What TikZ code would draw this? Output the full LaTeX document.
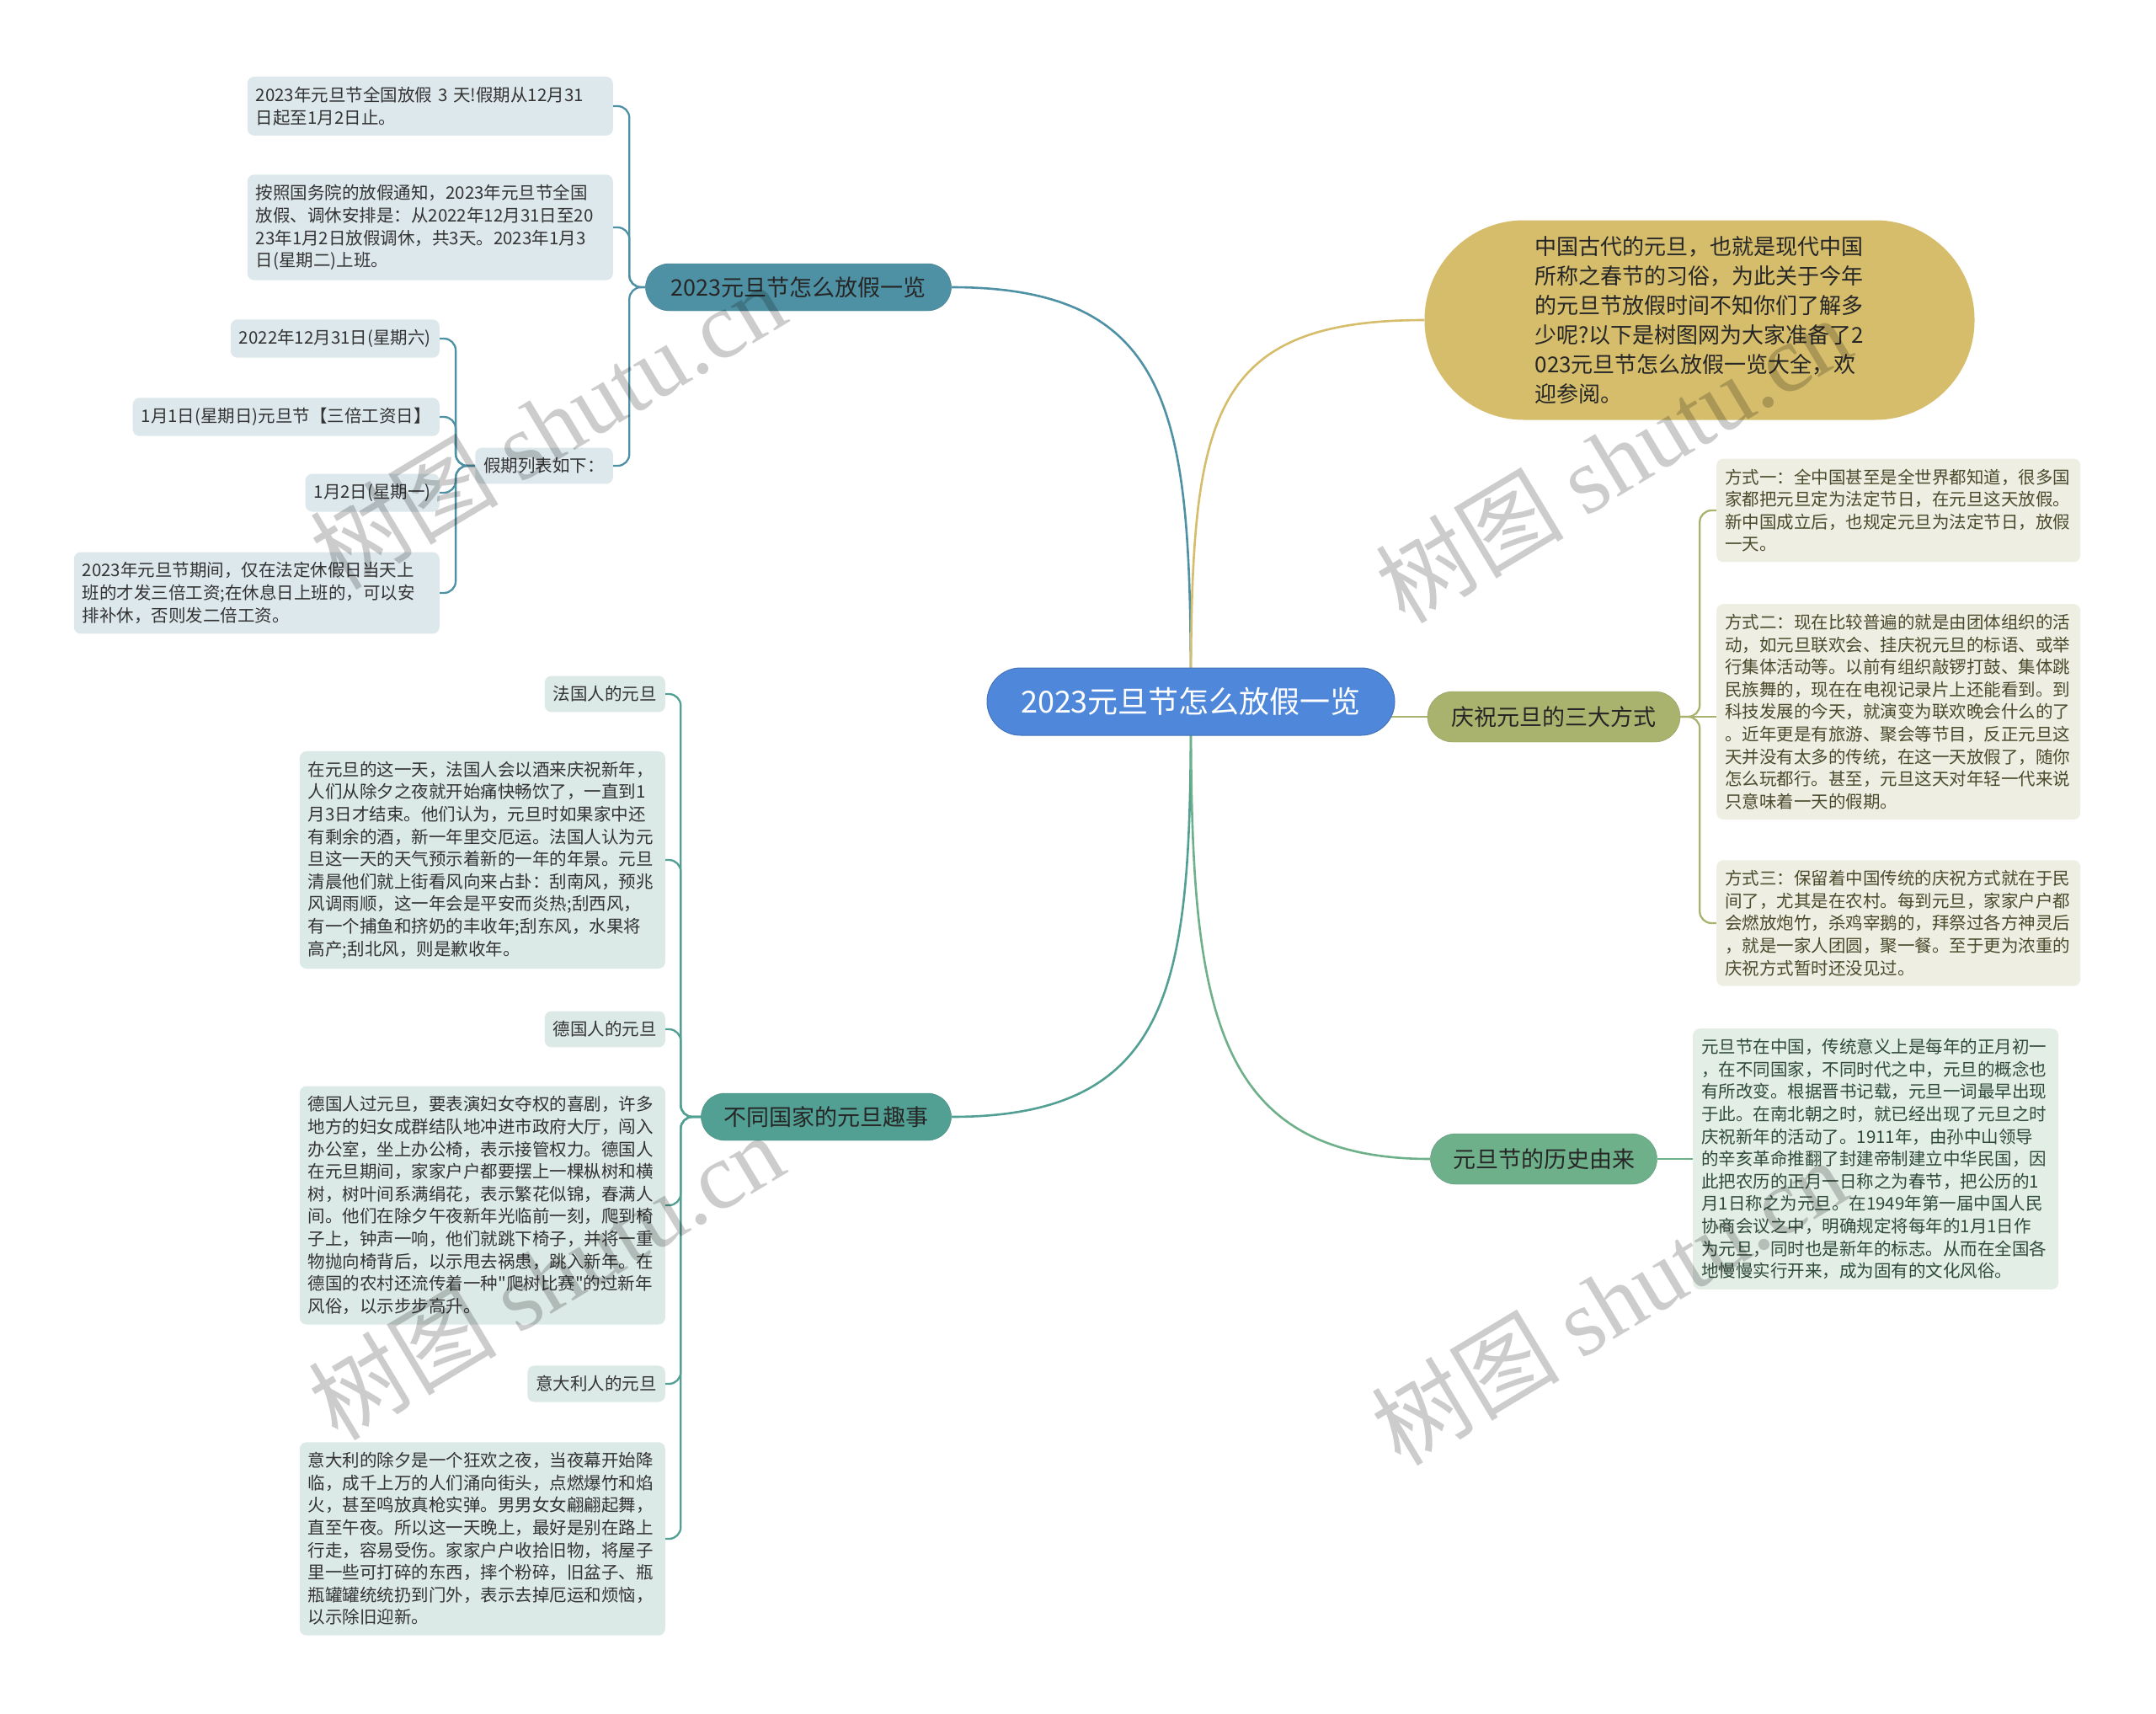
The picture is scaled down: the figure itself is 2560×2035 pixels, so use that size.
\documentclass[tikz,border=0pt]{standalone}
\usepackage{fontspec}
\setmainfont{Noto Sans CJK SC}[Ligatures=TeXOff]
\newfontfamily\wmlatin{Liberation Serif}
\usetikzlibrary{backgrounds}
\definecolor{rootc}{HTML}{4F87DA}
\definecolor{bAc}{HTML}{4F91A4}
\definecolor{bBc}{HTML}{52A093}
\definecolor{bCc}{HTML}{AAB36D}
\definecolor{bDc}{HTML}{6EB089}
\definecolor{introc}{HTML}{D5BD6B}
\definecolor{lAc}{HTML}{DDE8EC}
\definecolor{lBc}{HTML}{DCEAE7}
\definecolor{lCc}{HTML}{EEEEE3}
\definecolor{lDc}{HTML}{E3EEE7}
\definecolor{tA}{HTML}{333333}
\definecolor{tC}{HTML}{4A4A2C}
\definecolor{tD}{HTML}{2F4A39}
\tikzset{
  leafbase/.style={inner xsep=10pt, inner ysep=12pt, rounded corners=8pt,
    font=\fontsize{20.5pt}{26.6pt}\selectfont, align=left},
  leafA/.style={leafbase, fill=lAc, text=tA},
  leafB/.style={leafbase, fill=lBc, text=tA},
  leafC/.style={leafbase, fill=lCc, text=tC},
  leafD/.style={leafbase, fill=lDc, text=tD},
  branchbox/.style={minimum height=56pt, rounded corners=28pt, inner sep=0pt,
    font=\fontsize{27pt}{32pt}\selectfont, text=black!85},
  conn/.style={line width=2.6pt},
  subconn/.style={line width=2.3pt, rounded corners=14pt},
  wm/.style={text=black, opacity=0.2, font=\fontsize{112pt}{120pt}\selectfont, inner sep=0pt}
}
\begin{document}
\begin{tikzpicture}[x=1pt,y=-1pt]
\useasboundingbox (0,0) rectangle (2560,2035);

% root
\node[fill=rootc, draw=rootc!85!black, line width=1pt, minimum width=484pt, minimum height=80pt,
  rounded corners=40pt, inner sep=0pt, text=white, font=\fontsize{36pt}{40pt}\selectfont]
  (root) at (1414,833) {2023元旦节怎么放假一览};

% branches
\node[branchbox, fill=bAc, draw=bAc!85!black, minimum width=363pt] (bA) at (948,341) {2023元旦节怎么放假一览};
\node[branchbox, fill=bBc, draw=bBc!85!black, minimum width=297pt] (bB) at (981,1326) {不同国家的元旦趣事};
\node[branchbox, fill=bCc, draw=bCc!85!black, minimum width=300pt, minimum height=60pt, rounded corners=30pt] (bC) at (1845,851) {庆祝元旦的三大方式};
\node[branchbox, fill=bDc, draw=bDc!85!black, minimum width=269pt, minimum height=60pt, rounded corners=30pt] (bD) at (1833,1376) {元旦节的历史由来};

\node[fill=introc, minimum width=653pt, minimum height=237pt, rounded corners=118pt, inner sep=0pt,
  align=left, text=black!85, font=\fontsize{26pt}{35pt}\selectfont] (intro) at (2018,380)
  {中国古代的元旦，也就是现代中国\\所称之春节的习俗，为此关于今年\\的元旦节放假时间不知你们了解多\\少呢?以下是树图网为大家准备了2\\023元旦节怎么放假一览大全，欢\\迎参阅。};

% branch A leaves
\node[leafA, anchor=east, text width=414pt] (L1) at (728,126)
  {2023年元旦节全国放假 3 天!假期从12月31\\日起至1月2日止。};
\node[leafA, anchor=east, text width=414pt] (L2) at (728,270)
  {按照国务院的放假通知，2023年元旦节全国\\放假、调休安排是：从2022年12月31日至20\\23年1月2日放假调休，共3天。2023年1月3\\日(星期二)上班。};
\node[leafA, anchor=east] (L3) at (728,553) {假期列表如下：};
\node[leafA, anchor=east] (L3a) at (522,402) {2022年12月31日(星期六)};
\node[leafA, anchor=east] (L3b) at (522,495) {1月1日(星期日)元旦节【三倍工资日】};
\node[leafA, anchor=east] (L3c) at (522,585) {1月2日(星期一)};
\node[leafA, anchor=east, text width=414pt] (L3d) at (522,704)
  {2023年元旦节期间，仅在法定休假日当天上\\班的才发三倍工资;在休息日上班的，可以安\\排补休，否则发二倍工资。};

% branch B leaves
\node[leafB, anchor=east] (F1) at (790,824) {法国人的元旦};
\node[leafB, anchor=east, text width=414pt] (F2) at (790,1021)
  {在元旦的这一天，法国人会以酒来庆祝新年，\\人们从除夕之夜就开始痛快畅饮了，一直到1\\月3日才结束。他们认为，元旦时如果家中还\\有剩余的酒，新一年里交厄运。法国人认为元\\旦这一天的天气预示着新的一年的年景。元旦\\清晨他们就上街看风向来占卦：刮南风，预兆\\风调雨顺，这一年会是平安而炎热;刮西风，\\有一个捕鱼和挤奶的丰收年;刮东风，水果将\\高产;刮北风，则是歉收年。};
\node[leafB, anchor=east] (G1) at (790,1222) {德国人的元旦};
\node[leafB, anchor=east, text width=414pt] (G2) at (790,1431)
  {德国人过元旦，要表演妇女夺权的喜剧，许多\\地方的妇女成群结队地冲进市政府大厅，闯入\\办公室，坐上办公椅，表示接管权力。德国人\\在元旦期间，家家户户都要摆上一棵枞树和横\\树，树叶间系满绢花，表示繁花似锦，春满人\\间。他们在除夕午夜新年光临前一刻，爬到椅\\子上，钟声一响，他们就跳下椅子，并将一重\\物抛向椅背后，以示甩去祸患，跳入新年。在\\德国的农村还流传着一种"爬树比赛"的过新年\\风俗，以示步步高升。};
\node[leafB, anchor=east] (I1) at (790,1643) {意大利人的元旦};
\node[leafB, anchor=east, text width=414pt] (I2) at (790,1827)
  {意大利的除夕是一个狂欢之夜，当夜幕开始降\\临，成千上万的人们涌向街头，点燃爆竹和焰\\火，甚至鸣放真枪实弹。男男女女翩翩起舞，\\直至午夜。所以这一天晚上，最好是别在路上\\行走，容易受伤。家家户户收拾旧物，将屋子\\里一些可打碎的东西，摔个粉碎，旧盆子、瓶\\瓶罐罐统统扔到门外，表示去掉厄运和烦恼，\\以示除旧迎新。};

% branch C leaves
\node[leafC, anchor=west, text width=412pt] (R1) at (2038,606)
  {方式一：全中国甚至是全世界都知道，很多国\\家都把元旦定为法定节日，在元旦这天放假。\\新中国成立后，也规定元旦为法定节日，放假\\一天。};
\node[leafC, anchor=west, text width=412pt] (R2) at (2038,845)
  {方式二：现在比较普遍的就是由团体组织的活\\动，如元旦联欢会、挂庆祝元旦的标语、或举\\行集体活动等。以前有组织敲锣打鼓、集体跳\\民族舞的，现在在电视记录片上还能看到。到\\科技发展的今天，就演变为联欢晚会什么的了\\。近年更是有旅游、聚会等节目，反正元旦这\\天并没有太多的传统，在这一天放假了，随你\\怎么玩都行。甚至，元旦这天对年轻一代来说\\只意味着一天的假期。};
\node[leafC, anchor=west, text width=412pt] (R3) at (2038,1096)
  {方式三：保留着中国传统的庆祝方式就在于民\\间了，尤其是在农村。每到元旦，家家户户都\\会燃放炮竹，杀鸡宰鹅的，拜祭过各方神灵后\\，就是一家人团圆，聚一餐。至于更为浓重的\\庆祝方式暂时还没见过。};

% branch D leaf
\node[leafD, anchor=west, text width=414pt] (H) at (2010,1376)
  {元旦节在中国，传统意义上是每年的正月初一\\，在不同国家，不同时代之中，元旦的概念也\\有所改变。根据晋书记载，元旦一词最早出现\\于此。在南北朝之时，就已经出现了元旦之时\\庆祝新年的活动了。1911年，由孙中山领导\\的辛亥革命推翻了封建帝制建立中华民国，因\\此把农历的正月一日称之为春节，把公历的1\\月1日称之为元旦。在1949年第一届中国人民\\协商会议之中，明确规定将每年的1月1日作\\为元旦，同时也是新年的标志。从而在全国各\\地慢慢实行开来，成为固有的文化风俗。};

\begin{scope}[on background layer]
  \fill[white] (0,0) rectangle (2560,2035);
  \draw[conn, draw=bAc] (root.center) .. controls (1414,500) and (1400,341) .. (bA.east);
  \draw[conn, draw=introc] (root.center) .. controls (1414,500) and (1430,380) .. (intro.west);
  \draw[conn, draw=bCc] (root.center |- bC.west) -- (bC.west);
  \draw[conn, draw=bBc] (root.center) .. controls (1414,1160) and (1400,1326) .. (bB.east);
  \draw[conn, draw=bDc] (root.center) .. controls (1414,1180) and (1430,1376) .. (bD.west);

  \foreach \n in {L1,L2,L3} \draw[subconn, draw=bAc] (bA.west) -- ++(-19,0) |- (\n.east);
  \foreach \n in {L3a,L3b,L3c,L3d} \draw[subconn, draw=bAc] (L3.west) -- ++(-23,0) |- (\n.east);
  \foreach \n in {F1,F2,G1,G2,I1,I2} \draw[subconn, draw=bBc] (bB.west) -- ++(-24,0) |- (\n.east);
  \foreach \n in {R1,R3} \draw[subconn, draw=bCc] (bC.east) -- ++(23,0) |- (\n.west);
  \draw[subconn, draw=bCc] (bC.east) -- (R2.west |- bC.east);
  \draw[subconn, draw=bDc] (bD.east) -- (H.west);
\end{scope}

% watermarks
\node[wm, rotate=31] (wm1) at (650,505) {树图 {\wmlatin shutu.cn}};
\node[wm, rotate=31] (wm2) at (648,1515) {树图 {\wmlatin shutu.cn}};
\node[wm, rotate=31] (wm3) at (1915,545) {树图 {\wmlatin shutu.cn}};
\node[wm, rotate=31] (wm4) at (1910,1545) {树图 {\wmlatin shutu.cn}};
\end{tikzpicture}
\end{document}
